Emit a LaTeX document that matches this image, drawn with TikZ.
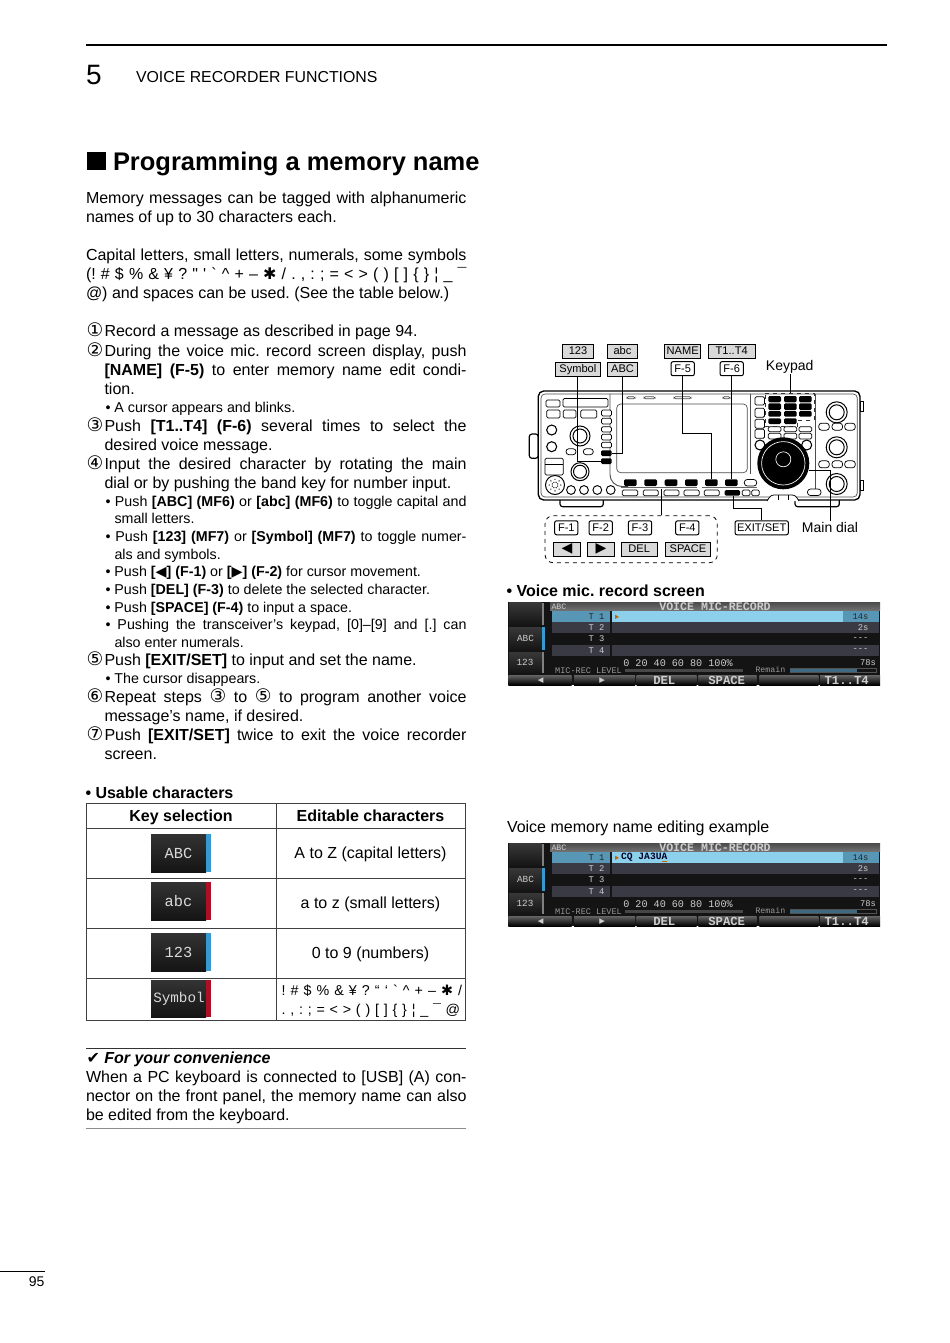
\documentclass[tikz,border=0pt]{standalone}
\usepackage{fontspec}
\setmainfont[Ligatures=TeXOff]{Liberation Sans}
\setmonofont{Liberation Mono}
\newfontfamily\symf{DejaVu Sans}

\definecolor{boxgray}{RGB}{217,217,217}
\definecolor{rowblue}{RGB}{88,150,182}
\definecolor{rowlight}{RGB}{140,208,236}
\definecolor{rowdark}{RGB}{58,58,68}
\definecolor{stripblue}{RGB}{56,152,208}
\definecolor{stripred}{RGB}{172,16,36}
\definecolor{scrtxt}{RGB}{205,205,205}

\tikzset{every picture/.style={line width=0.75pt},
  bodytxt/.style={anchor=base west,inner sep=0pt,font=\fontsize{12}{14}\selectfont},
  subtxt/.style={anchor=base west,inner sep=0pt,font=\fontsize{10.7}{12}\selectfont},
  numtxt/.style={anchor=base west,inner sep=0pt,font=\symf\fontsize{14}{14}\selectfont},
  celltxt/.style={anchor=base,inner sep=0pt,font=\fontsize{12}{14}\selectfont},
  labelgray/.style={draw,fill=boxgray,inner sep=0pt,minimum height=10.5pt,text height=6pt,text depth=0.8pt,font=\fontsize{8.3}{10}\selectfont},
  labelsoft/.style={draw,rounded corners=1.5pt,fill=white,inner sep=0pt,minimum width=17.5pt,minimum height=10.5pt,text height=6pt,text depth=0.8pt,font=\fontsize{8.3}{10}\selectfont},
  calltxt/.style={anchor=base,inner sep=0pt,font=\fontsize{10.5}{12}\selectfont},
  blackkey/.style={fill=black,rounded corners=1pt},
  whitekey/.style={draw,fill=white,line width=0.55pt,rounded corners=1pt},
  ovalkey/.style={draw,fill=white,line width=0.55pt,rounded corners=2.2pt},
  thinline/.style={line width=0.5pt},
  panelbtn/.style={top color=black!80,bottom color=black!92,draw=none},
  btntxt/.style={inner sep=0pt,text=white!85!black,font=\ttfamily\fontsize{11.5}{12}\selectfont},
  scrtext/.style={inner sep=0pt,text=scrtxt,font=\ttfamily\fontsize{6.6}{8}\selectfont},
  softkeyfill/.style={top color=black!62,bottom color=black,draw=none}
}

\newcommand{\jline}[5]{\node[bodytxt] (#1) at (#2,#3) {\makebox[#4pt][s]{#5}};}
\newcommand{\jsub}[5]{\node[subtxt] (#1) at (#2,#3) {\makebox[#4pt][s]{#5}};}
\newcommand{\heavystar}{{\symf ✱}}
\newcommand{\stepnum}[1]{{\symf\fontsize{14}{14}\selectfont #1}}

\begin{document}
\frenchspacing
\begin{tikzpicture}[x=0.75pt,y=0.75pt,yscale=-1,xscale=1]
\useasboundingbox (0,0) rectangle (950,1343);

% header
\draw[line width=1.5pt] (86,45) -- (887,45);
\node[anchor=base west,inner sep=0pt,font=\fontsize{21}{24}\selectfont] (chapno) at (85.5,84) {5};
\node[anchor=base west,inner sep=0pt,font=\fontsize{11.9}{14}\selectfont] (chaptitle) at (135.5,82.5) {VOICE RECORDER FUNCTIONS};
\fill (87,152) rectangle (106,170);
\node[anchor=base west,inner sep=0pt,font=\bfseries\fontsize{19.1}{22}\selectfont] (heading) at (112.5,170) {Programming a memory name};

% left column text
\jline{intro1}{85.5}{203}{285.4}{Memory messages can be tagged with alphanumeric}
\node[bodytxt] (intro2) at (85.5,222) {names of up to 30 characters each.};
\jline{cap1}{85.5}{260}{285.4}{Capital letters, small letters, numerals, some symbols}
\jline{cap2}{85.5}{279}{285.4}{(! \# \$ \% \& ¥ ? " ' ` \^{} + – \heavystar{} / . , : ; = < > ( ) [ ] \{ \} ¦ \_ ¯}
\node[bodytxt] (cap3) at (85.5,298) {@) and spaces can be used. (See the table below.)};

\node[numtxt] (num1) at (86,336.5) {①};
\node[bodytxt] (s1a) at (104,336) {Record a message as described in page 94.};
\node[numtxt] (num2) at (86,356.5) {②};
\jline{s2a}{104}{356}{271.5}{During the voice mic. record screen display, push}
\jline{s2b}{104}{375}{271.5}{\textbf{[NAME] (F-5)} to enter memory name edit condi-}
\node[bodytxt] (s2c) at (104,394) {tion.};
\node[subtxt] (s2d) at (105,412) {• A cursor appears and blinks.};
\node[numtxt] (num3) at (86,431.5) {③};
\jline{s3a}{104}{431}{271.5}{Push \textbf{[T1..T4] (F-6)} several times to select the}
\node[bodytxt] (s3b) at (104,450) {desired voice message.};
\node[numtxt] (num4) at (86,469.5) {④};
\jline{s4a}{104}{469}{271.5}{Input the desired character by rotating the main}
\node[bodytxt] (s4b) at (104,488) {dial or by pushing the band key for number input.};
\jsub{s4c}{105}{506}{270.75}{• Push \textbf{[ABC] (MF6)} or \textbf{[abc] (MF6)} to toggle capital and}
\node[subtxt] (s4d) at (114,523) {small letters.};
\jsub{s4e}{105}{541}{270.75}{• Push \textbf{[123] (MF7)} or \textbf{[Symbol] (MF7)} to toggle numer-}
\node[subtxt] (s4f) at (114,559) {als and symbols.};
\node[subtxt] (s4g) at (105,576) {• Push \textbf{[{\symf ◀}] (F-1)} or \textbf{[{\symf ▶}] (F-2)} for cursor movement.};
\node[subtxt] (s4h) at (105,594) {• Push \textbf{[DEL] (F-3)} to delete the selected character.};
\node[subtxt] (s4i) at (105,612) {• Push \textbf{[SPACE] (F-4)} to input a space.};
\jsub{s4j}{105}{629}{270.75}{• Pushing the transceiver’s keypad, [0]–[9] and [.] can}
\node[subtxt] (s4k) at (114,647) {also enter numerals.};
\node[numtxt] (num5) at (86,665.5) {⑤};
\node[bodytxt] (s5a) at (104,665) {Push \textbf{[EXIT/SET]} to input and set the name.};
\node[subtxt] (s5b) at (105,683) {• The cursor disappears.};
\node[numtxt] (num6) at (86,702.5) {⑥};
\jline{s6a}{104}{702}{271.5}{Repeat steps \stepnum{③} to \stepnum{⑤} to program another voice}
\node[bodytxt] (s6b) at (104,721) {message’s name, if desired.};
\node[numtxt] (num7) at (86,740.5) {⑦};
\jline{s7a}{104}{740}{271.5}{Push \textbf{[EXIT/SET]} twice to exit the voice recorder}
\node[bodytxt] (s7b) at (104,759) {screen.};

% table
\node[bodytxt,font=\bfseries\fontsize{12}{14}\selectfont] (usable) at (85,798) {• Usable characters};
\draw[black!75] (86.5,803) rectangle (465.5,1020);
\foreach \rowy in {828,878,928,978}
  \draw[black!75] (86.5,\rowy) -- (465.5,\rowy);
\draw[black!75] (276,803) -- (276,1020);
\node[celltxt,font=\bfseries\fontsize{12}{14}\selectfont] (headkey) at (181,821) {Key selection};
\node[celltxt,font=\bfseries\fontsize{12}{14}\selectfont] (headedit) at (370.5,821) {Editable characters};
\foreach \btn/\btop/\bbot/\bcol/\btxt in {ba/834/872/stripblue/ABC,bb/882/920/stripred/abc,bc/933/971/stripblue/123}{
  \fill[panelbtn] (151,\btop) rectangle (206,\bbot);
  \fill[\bcol] (206,\btop) rectangle (211,\bbot);
  \node[btntxt] (\btn) at (178.5,\btop/2+\bbot/2) {\btxt};
}
\fill[panelbtn] (151,980) rectangle (206,1017);
\fill[stripred] (206,980) rectangle (211,1017);
\node[btntxt,font=\ttfamily\fontsize{10.7}{12}\selectfont] (bd) at (179,998.5) {Symbol};
\node[celltxt] (cella) at (370.5,858) {A to Z (capital letters)};
\node[celltxt] (cellb) at (370.5,908) {a to z (small letters)};
\node[celltxt] (cellc) at (370.5,958) {0 to 9 (numbers)};
\jsub{celld}{281}{995}{135.5}{! \# \$ \% \& ¥ ? “ ‘ ` \^{} + – \heavystar{} /}
\jsub{celle}{281}{1014}{134}{. , : ; = < > ( ) [ ] \{ \} ¦ \_ ¯ @}

% convenience note
\draw[black!80] (86,1048) -- (466,1048);
\node[bodytxt,font=\bfseries\itshape\fontsize{12}{14}\selectfont] (conv) at (86,1063) {{\symf ✔} For your convenience};
\jline{conva}{85.5}{1082}{285.4}{When a PC keyboard is connected to [USB] (A) con-}
\jline{convb}{85.5}{1101}{285.4}{nector on the front panel, the memory name can also}
\node[bodytxt] (convc) at (85.5,1120) {be edited from the keyboard.};
\draw[black!45,thinline] (86,1128) -- (466,1128);

% page number
\draw[thinline] (0,1271) -- (45,1271);
\node[anchor=base east,inner sep=0pt,font=\fontsize{10.5}{12}\selectfont] (pageno) at (45,1286) {95};

% radio body
\draw[fill=white,line width=0.9pt,rounded corners=2pt] (529.3,434) rectangle (538.3,458.3);
\draw[fill=white,line width=0.9pt] (860,401.7) rectangle (863.3,411.7);
\draw[fill=white,line width=0.9pt] (860,480.7) rectangle (863.3,490.7);
\draw[fill=white,line width=0.9pt,rounded corners=2pt] (560,498) -- (560,506.7) -- (603.3,506.7) -- (603.3,498);
\draw[fill=white,line width=0.9pt,rounded corners=2pt] (795,498) -- (795,506.7) -- (839.3,506.7) -- (839.3,498);
\draw[fill=white,line width=1pt,rounded corners=4pt] (538.3,391) rectangle (860,500);
\draw[black!70,thinline,rounded corners=3pt] (541,394) rectangle (857.3,497);
% bezel and screen
\draw[black!70,line width=0.7pt,rounded corners=9pt] (610,394) -- (610,486.5) -- (628,486.5);
\draw[black!70,thinline] (750,394) -- (750,474);
\draw[black!70,thinline] (815,394) -- (815,490);
\draw[black!70,thinline,rounded corners=3pt] (616.7,404) rectangle (747.3,472.7);
\foreach \ovl/\ovr in {627/635,644/655,674/691,723/730}
  \draw[black!70,thinline,rounded corners=1pt] (\ovl,396.8) rectangle (\ovr,398.8);

% left panel keys
\draw[whitekey] (546,400) rectangle (560,407);
\draw[whitekey] (563,398.5) rectangle (608,407);
\foreach \kl/\kr in {546.7/560,563.3/576,580.7/596.7}
  \draw[whitekey] (\kl,410) rectangle (\kr,418);
\foreach \kt/\kb in {410/416,418.3/424,426.7/432,434.3/440,442.3/447.7}
  \draw[whitekey] (601.5,\kt) rectangle (611.5,\kb);
\fill[blackkey] (601,450.3) rectangle (611.7,456);
\fill[blackkey] (601,458.3) rectangle (611.7,464);
\coordinate (keyabc) at (611.7,453.3);
\coordinate (keysym) at (601,461);
\foreach \cy in {430,446.7}
  \draw[line width=0.8pt,fill=white] (551.7,\cy) circle (5);
\draw[fill=white] (580,436) circle (10);
\draw[fill=white] (580,436) circle (7);
\draw[ovalkey] (566,448.7) rectangle (576,454.7);
\draw[ovalkey] (583.3,448.7) rectangle (593.3,454.7);
\draw[whitekey] (545,458.3) rectangle (563.3,475);
\draw[thinline] (545,464) -- (563.3,464);
\draw[fill=white] (580,471.7) circle (9);
\draw[fill=white] (580,471.7) circle (6.5);
\draw[fill=white] (555,485) circle (9.5);
\foreach \ang in {0,45,...,315}{
  \fill (555,485) ++(\ang:5.8) circle (0.7);
  \fill (555,485) ++(\ang+22:2.9) circle (0.7);
}
\foreach \cx in {571,584,597.3,610.7}
  \draw[fill=white,line width=0.7pt] (\cx,490) circle (4.4);

% function keys
\foreach \kl in {624,644.3,664.7,685,705,725}
  \fill[blackkey] (\kl,479.3) rectangle (\kl+12.7,486);
\coordinate (key5) at (711.3,479.3);
\coordinate (key6) at (731.7,479.3);
\draw[ovalkey] (744.3,479.5) rectangle (756.7,486);
\draw[black!60,line width=0.9pt] (620.7,487.8) -- (697.3,487.8);
\draw[black!60,line width=0.9pt] (701.7,487.8) -- (756.7,487.8);
\coordinate (fnbar) at (661.7,488.5);
\foreach \kl/\kr in {622.3/637.7,643.3/658.3,664/679,684/699.3,704.3/719.3,742.3/750,751.7/759.3}
  \draw[whitekey] (\kl,490) rectangle (\kr,495.7);
\fill[blackkey] (724.7,490) rectangle (740,495.7);
\coordinate (keyexit) at (733.3,495.7);
\coordinate (exitbend) at (733.3,508.3);
\coordinate (f5bend) at (682.7,433.3);

% right panel keys
\foreach \kt/\kb in {396.7/405,408.3/417.3,419.3/428.3,429.3/438.3}
  \draw[whitekey] (755,\kt) rectangle (764.5,\kb);
\foreach \kl in {768.3,784,799}{
  \fill[blackkey] (\kl,396) rectangle (\kl+12.7,402.3);
  \fill[blackkey] (\kl,403.3) rectangle (\kl+12.7,410);
  \fill[blackkey] (\kl,411) rectangle (\kl+12.7,416.7);
  \draw[whitekey] (\kl,433.3) rectangle (\kl+12.7,439);
  \draw[whitekey] (\kl,426.7) rectangle (\kl+12.7,431.7);
}
\fill[blackkey] (768.3,418.3) rectangle (781,424);
\fill[blackkey] (784,418.3) rectangle (796.7,424);
\draw[dashed,line width=0.6pt,black!80] (765,393.3) -- (814.3,393.3) -- (814.3,420) -- (797.7,420) -- (797.7,426.7) -- (765,426.7) -- cycle;
\coordinate (keypadtop) at (790,393.3);
\foreach \cx in {760,806.7}
  \draw[line width=0.8pt,fill=white] (\cx,445) circle (5);
\foreach \ky in {412.3,447.3,484}{
  \draw[fill=white] (836.7,\ky) circle (10.5);
  \draw[fill=white] (836.7,\ky) circle (7.5);
}
\foreach \cx in {824,837.3,850}{
  \draw[ovalkey] (\cx-5.3,423.2) rectangle (\cx+5.3,430.2);
  \draw[ovalkey] (\cx-5.3,460.8) rectangle (\cx+5.3,467.8);
}
\draw[ovalkey] (807.5,489) rectangle (821,495.5);
\draw[whitekey,rounded corners=2pt] (767,501) -- (771,495) -- (795,495) -- (799,501);
\draw[thinline] (778,495) -- (778,500) (788,495) -- (788,500);

% main dial
\fill (783.3,463.3) circle (26);
\draw[white,thinline] (783.3,463.3) circle (21.7);
\draw[white,thinline] (783.3,459.3) circle (7.5);
\coordinate (dialedge) at (809,470);

% callouts
\node[labelgray,minimum width=23pt] (lab123) at (578,351) {123};
\node[labelgray,minimum width=23pt] (labsmall) at (622.5,351) {abc};
\node[labelgray,minimum width=27pt] (labname) at (682.7,351) {NAME};
\node[labelgray,minimum width=35.25pt] (labtrack) at (731.7,351) {T1..T4};
\node[labelgray,minimum width=34.25pt] (labsym) at (577.9,369.5) {Symbol};
\node[labelgray,minimum width=23pt] (labcap) at (622.5,369.5) {ABC};
\node[labelsoft] (labf5) at (682.7,368.7) {F-5};
\node[labelsoft] (labf6) at (731.7,368.7) {F-6};
\node[calltxt] (labkeypad) at (789.7,370.7) {Keypad};
\node[calltxt] (labdial) at (830,532) {Main dial};

\node[draw,dashed,rounded corners=6pt,minimum width=129.2pt,minimum height=35.25pt,inner sep=0pt,line width=0.6pt] (fngroup) at (631.2,539.2) {};
\node[labelsoft] (labf1) at (566.3,527.8) {F-1};
\node[labelsoft] (labf2) at (600.7,527.8) {F-2};
\node[labelsoft] (labf3) at (640,527.8) {F-3};
\node[labelsoft] (labf4) at (687.3,527.8) {F-4};
\node[labelgray,minimum width=20.5pt,text height=7pt,text depth=1.4pt,font=\symf\fontsize{10.5}{10}\selectfont] (lableft) at (567,549) {◀};
\node[labelgray,minimum width=20.5pt,text height=7pt,text depth=1.4pt,font=\symf\fontsize{10.5}{10}\selectfont] (labright) at (601,549) {▶};
\node[labelgray,minimum width=27.25pt] (labdel) at (639.2,549) {DEL};
\node[labelgray,minimum width=33.5pt] (labspace) at (688,549) {SPACE};
\node[labelsoft,minimum width=40pt] (labexit) at (761.7,527.8) {EXIT/SET};

\draw (labsym.south) |- (keysym);
\draw (labcap.south) |- (keyabc);
\draw (labf5.south) -- (f5bend) -| (key5);
\draw (labf6.south) -- (key6);
\draw (labkeypad.south -| keypadtop) -- (keypadtop);
\draw (fngroup.north -| fnbar) -- (fnbar);
\draw (labexit.north) |- (exitbend) -- (keyexit);
\draw (labdial.north) |- (dialedge);

% screens
\node[bodytxt,font=\bfseries\fontsize{12}{14}\selectfont] (scrhead) at (506,596) {• Voice mic. record screen};
\node[bodytxt] (edithead) at (506.5,832) {Voice memory name editing example};
\foreach \scr/\dy in {a/0,b/241}{
\begin{scope}[shift={(0,\dy)}]
  \fill[black!92] (508.3,601.7) rectangle (880,685);
  \fill[top color=black!70,bottom color=black!55,draw=none] (550,602.3) rectangle (880,610.7);
  \foreach \bt/\bb in {602.5/625,627/650,652/673}
    \fill[top color=black!78,bottom color=black!92,draw=none] (509,\bt) rectangle (541.5,\bb);
  \fill[black!50] (542,603) rectangle (544,625);
  \fill[stripblue] (542,627) rectangle (544.5,650);
  \fill[black!50] (542,652) rectangle (544,673);
  \fill[rowblue] (551.7,610.7) rectangle (610.3,622.3);
  \fill[rowlight] (611.5,610.7) rectangle (843.3,622.3);
  \fill[rowblue] (843.3,610.7) rectangle (879,622.3);
  \fill[rowdark] (551.7,622.3) rectangle (610.3,633.3);
  \fill[rowdark] (611.5,622.3) rectangle (879,633.3);
  \fill[rowdark] (551.7,645) rectangle (610.3,655.7);
  \fill[rowdark] (611.5,645) rectangle (879,655.7);
  \fill[orange!80!black] (615,614.7) -- (619,616.8) -- (615,619) -- cycle;
  \foreach \kl/\kr in {508.3/571.7,574/635,636.7/696.7,698.3/756.7,759.3/818.3,820/880}
    \fill[softkeyfill] (\kl,675.3) rectangle (\kr,685);
  \fill[black!72] (625,668.5) rectangle (743,672);
  \draw[thinline,scrtxt!40!black] (790,668) rectangle (876.7,672);
  \fill[rowblue!70!black] (790,668.5) rectangle (856.7,671.5);
  \node[scrtext,font=\ttfamily\bfseries\fontsize{8.7}{10}\selectfont] (title\scr) at (715,606.3) {VOICE MIC-RECORD};
  \node[scrtext,anchor=west,font=\ttfamily\fontsize{6.2}{8}\selectfont] (mode\scr) at (551,606.3) {ABC};
  \node[scrtext,text=black!85,anchor=east] (ta\scr) at (605,616.5) {T 1};
  \node[scrtext,anchor=east] (tb\scr) at (605,628) {T 2};
  \node[scrtext,anchor=east] (tc\scr) at (605,639) {T 3};
  \node[scrtext,anchor=east] (td\scr) at (605,650.5) {T 4};
  \node[scrtext,text=black!85,anchor=east] (va\scr) at (869,616.5) {14s};
  \node[scrtext,anchor=east] (vb\scr) at (869,628) {2s};
  \node[scrtext,anchor=east] (vc\scr) at (869,639) {---};
  \node[scrtext,anchor=east] (vd\scr) at (869,650.5) {---};
  \node[scrtext,font=\ttfamily\fontsize{7}{8}\selectfont] (sideabc\scr) at (525.5,638.3) {ABC};
  \node[scrtext,font=\ttfamily\fontsize{7}{8}\selectfont] (side123\scr) at (525,662.3) {123};
  \node[scrtext,font=\ttfamily\fontsize{7.6}{8}\selectfont] (scale\scr) at (678,662.7) {0 20 40 60 80 100\%};
  \node[scrtext,text=black!40,anchor=west,font=\ttfamily\fontsize{6.4}{8}\selectfont] (level\scr) at (554.7,671) {MIC-REC LEVEL};
  \node[scrtext,text=black!40,anchor=west,font=\ttfamily\fontsize{6.2}{8}\selectfont] (remain\scr) at (755,670) {Remain};
  \node[scrtext,anchor=east] (time\scr) at (876.5,662.7) {78s};
  \node[scrtext,font=\symf\fontsize{5.5}{7}\selectfont] (skl\scr) at (540.7,680.5) {◀};
  \node[scrtext,font=\symf\fontsize{5.5}{7}\selectfont] (skr\scr) at (602.3,680.5) {▶};
  \node[scrtext,font=\ttfamily\bfseries\fontsize{9.2}{10}\selectfont] (skd\scr) at (664.3,680.5) {DEL};
  \node[scrtext,font=\ttfamily\bfseries\fontsize{9.2}{10}\selectfont] (sks\scr) at (726.7,680.5) {SPACE};
  \node[scrtext,font=\ttfamily\bfseries\fontsize{9.2}{10}\selectfont] (skt\scr) at (846.7,680.5) {T1..T4};
\end{scope}
}
\node[scrtext,text=black!85!blue,anchor=west,font=\ttfamily\bfseries\fontsize{7.2}{8}\selectfont] (msgtext) at (620.7,857.7) {CQ JA3UA};
\draw[orange!80!black,line width=0.8pt] (662,861.5) -- (667,861.5);

\end{tikzpicture}
\end{document}
